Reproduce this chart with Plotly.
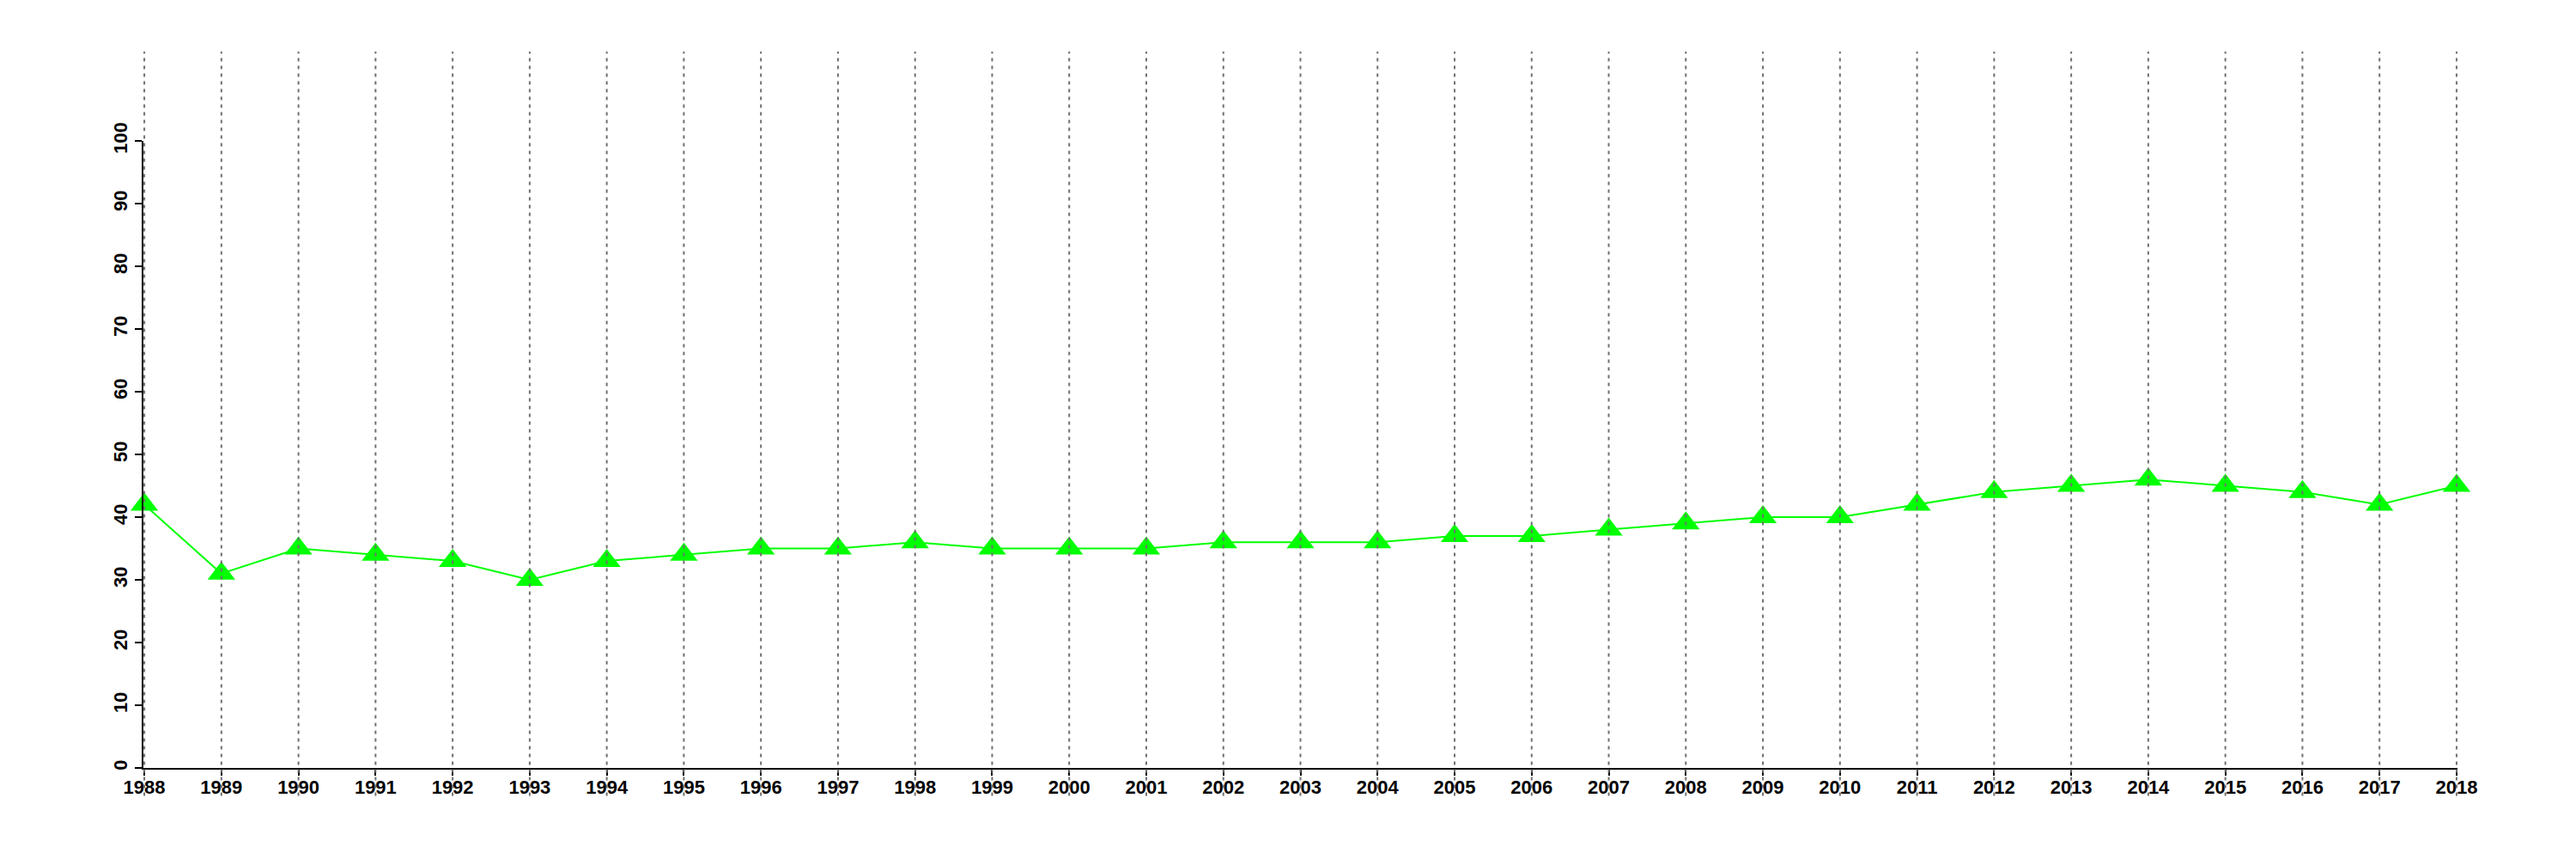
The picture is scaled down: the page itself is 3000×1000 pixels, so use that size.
import plotly.graph_objects as go

years = list(range(1988, 2019))
values = [42, 31, 35, 34, 33, 30, 33, 34, 35, 35, 36, 35, 35, 35, 36, 36, 36,
          37, 37, 38, 39, 40, 40, 42, 44, 45, 46, 45, 44, 42, 45]
y_ticks = list(range(0, 101, 10))

FONT = "Liberation Sans, Arial, Helvetica, sans-serif"

fig = go.Figure()
fig.add_trace(go.Scatter(
    x=years, y=values, mode="lines+markers",
    line=dict(color="#00FF00", width=2),
    marker=dict(symbol="triangle-up", size=28, color="#00FF00", line=dict(width=0)),
    cliponaxis=False, hoverinfo="skip", showlegend=False,
))

shapes = []
for yr in years:
    shapes.append(dict(
        type="line", xref="x", yref="paper", x0=yr, x1=yr, y0=-0.0444, y1=1.1425,
        line=dict(color="#707070", width=2, dash="4px,5px"), layer="above",
    ))

tick_font = dict(family=FONT, size=22, color="black", weight="bold")

# page body has an 8px default margin, so margins are shifted by 8px
fig.update_layout(
    template="none",
    width=3000, height=1000,
    margin=dict(l=159, r=146, t=156, b=114, pad=0, autoexpand=False),
    paper_bgcolor="white", plot_bgcolor="white",
    showlegend=False,
    shapes=shapes,
    font=dict(family=FONT, size=22, color="black"),
    xaxis=dict(
        range=[years[0] - 0.012, years[-1] + 0.012],
        tickvals=years, ticktext=[str(y) for y in years],
        showgrid=False, zeroline=False, automargin=False,
        showline=True, linecolor="black", linewidth=2,
        ticks="outside", ticklen=7, tickwidth=2, tickcolor="black",
        ticklabelstandoff=-5,
        tickfont=tick_font,
    ),
    yaxis=dict(
        range=[0, 100],
        tickvals=y_ticks, ticktext=[str(v) for v in y_ticks],
        showgrid=False, zeroline=False, automargin=False,
        showline=True, linecolor="black", linewidth=2,
        ticks="outside", ticklen=8, tickwidth=2, tickcolor="black",
        tickangle=-90,
        tickfont=tick_font,
    ),
)

fig.write_html("out.html")
